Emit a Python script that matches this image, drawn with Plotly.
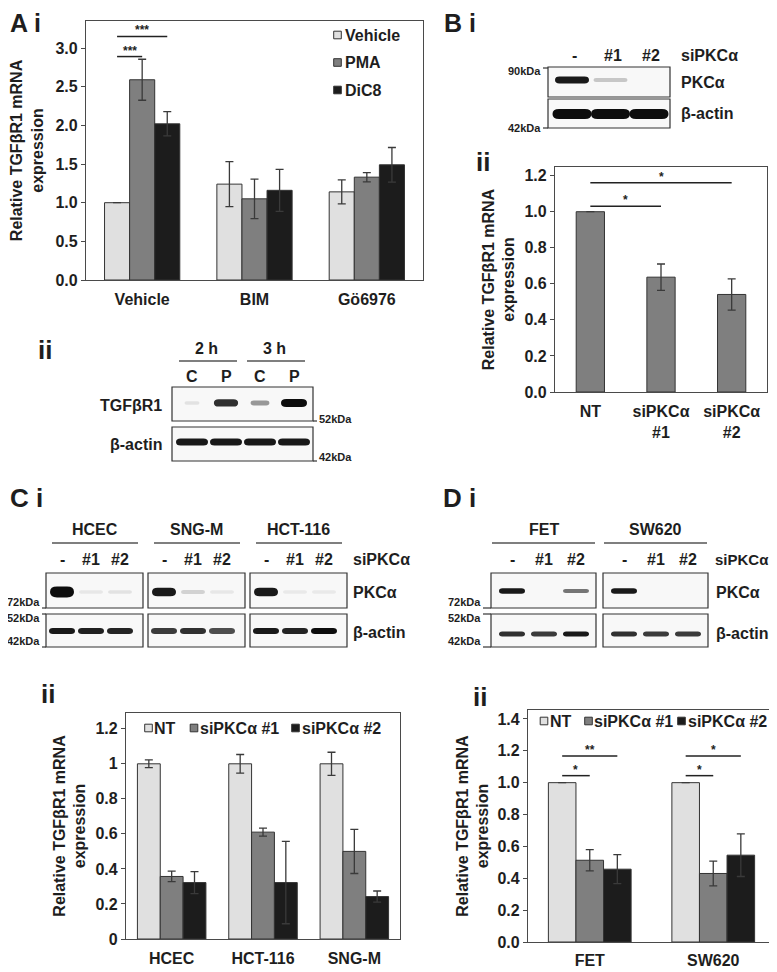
import plotly.graph_objects as go

# the page body keeps its default 8px margin, so the figure is drawn 8px in
PAD = 8
W, H = 777 - PAD, 972 - PAD
FONT = "Liberation Sans, Arial, Helvetica, sans-serif"
INK = "#1e1e1e"
AXIS = "#4a4a4a"
LIGHT, MID, DARK = "#e0e0e0", "#7f7f7f", "#1c1c1c"
TITLE = "Relative TGFβR1 mRNA<br>expression"

# ---------------- data ----------------
# A i  qPCR
a_groups = ["Vehicle", "BIM", "Gö6976"]
a_series = ["Vehicle", "PMA", "DiC8"]
a_vehicle = [1.00, 1.24, 1.14]
a_vehicle_err = [0.0, 0.29, 0.155]
a_pma = [2.59, 1.05, 1.33]
a_pma_err = [0.265, 0.255, 0.06]
a_dic8 = [2.02, 1.16, 1.49]
a_dic8_err = [0.157, 0.272, 0.224]
a_sig = [(0, 0, 1, 2.89, "***"), (0, 0, 2, 3.15, "***")]

# A ii  blot
aii_times = ["2 h", "3 h"]
aii_lanes = ["C", "P", "C", "P"]
aii_tgfbr1 = [0.08, 0.85, 0.4, 1.0]
aii_actin = [0.95, 0.95, 0.95, 0.95]

# B i  blot
bi_lanes = ["-", "#1", "#2"]
bi_pkca = [0.95, 0.2, 0.0]
bi_actin = [1.0, 1.0, 1.0]

# B ii  qPCR
b_cats = ["NT", "siPKCα<br>#1", "siPKCα<br>#2"]
b_vals = [1.0, 0.637, 0.541]
b_errs = [0.0, 0.073, 0.087]
b_sig = [(0, 1, 1.03, "*"), (0, 2, 1.16, "*")]

# C i  blot
ci_cells = ["HCEC", "SNG-M", "HCT-116"]
ci_lanes = ["-", "#1", "#2"]
ci_pkca = [[1.0, 0.06, 0.08], [0.95, 0.15, 0.06], [0.95, 0.05, 0.05]]
ci_actin = [[0.95, 0.92, 0.9], [0.8, 0.85, 0.72], [0.95, 0.9, 1.0]]

# C ii  qPCR
c_cells = ["HCEC", "HCT-116", "SNG-M"]
c_series = ["NT", "siPKCα #1", "siPKCα #2"]
c_nt = [1.0, 1.0, 1.0]
c_nt_err = [0.022, 0.053, 0.066]
c_si1 = [0.357, 0.61, 0.50]
c_si1_err = [0.03, 0.023, 0.126]
c_si2 = [0.322, 0.322, 0.242]
c_si2_err = [0.063, 0.235, 0.032]

# D i  blot
di_cells = ["FET", "SW620"]
di_pkca = [[0.95, 0.0, 0.55], [0.95, 0.0, 0.0]]
di_actin = [[0.85, 0.8, 0.95], [0.85, 0.8, 0.8]]

# D ii  qPCR
d_cells = ["FET", "SW620"]
d_nt = [1.0, 1.0]
d_nt_err = [0.0, 0.0]
d_si1 = [0.513, 0.43]
d_si1_err = [0.067, 0.078]
d_si2 = [0.457, 0.545]
d_si2_err = [0.091, 0.134]
d_sig = [(0, 0, 1, 1.044, "*"), (0, 0, 2, 1.167, "**"),
         (1, 0, 1, 1.044, "*"), (1, 0, 2, 1.167, "*")]


# ---------------- helpers ----------------
def px(x):
    return (x - PAD) / W


def py(y):
    return 1 - (y - PAD) / H


shapes, annots = [], []
fig = go.Figure()


def text(x, y, s, size=16, anchor="center"):
    annots.append(dict(x=px(x), y=py(y), xref="paper", yref="paper", text=s,
                       showarrow=False, xanchor=anchor, yanchor="middle",
                       borderpad=0,
                       font=dict(size=size, family=FONT, color=INK, weight="bold")))


def line(x0, y0, x1, y1, color="#555", width=1.4):
    shapes.append(dict(type="line", xref="paper", yref="paper",
                       x0=px(x0), y0=py(y0), x1=px(x1), y1=py(y1),
                       line=dict(color=color, width=width)))


def rect(x0, y0, x1, y1, fill, color="#333", width=1.2):
    shapes.append(dict(type="rect", xref="paper", yref="paper",
                       x0=px(x0), y0=py(y0), x1=px(x1), y1=py(y1),
                       fillcolor=fill, line=dict(color=color, width=width)))


def band(cx, cy, hw, hh, inten):
    if inten < 0.02:
        return
    g = int(round(245 - 232 * inten))
    r = min(hw, hh * 1.3)
    x0, x1, y0, y1 = cx - hw, cx + hw, cy - hh, cy + hh
    pts = lambda x, y: f"{px(x):.5f},{py(y):.5f}"
    path = (f"M{pts(x0 + r, y0)} L{pts(x1 - r, y0)} Q{pts(x1, y0)} {pts(x1, cy)} "
            f"Q{pts(x1, y1)} {pts(x1 - r, y1)} L{pts(x0 + r, y1)} "
            f"Q{pts(x0, y1)} {pts(x0, cy)} Q{pts(x0, y0)} {pts(x0 + r, y0)} Z")
    shapes.append(dict(type="path", xref="paper", yref="paper", path=path,
                       fillcolor=f"rgb({g},{g},{g})", line=dict(width=0)))


def kda(x, y, s, side, tick_y, edge):
    # marker label with short tick to blot edge
    if side == "left":
        text(x, y, s, size=11, anchor="right")
        line(x + 1, tick_y, edge, tick_y, color="#333", width=1.2)
    else:
        text(x, y, s, size=11, anchor="left")
        line(edge, tick_y, x - 1, tick_y, color="#333", width=1.2)


def grouped(sub, cats, names, vals, errs, colors, gap):
    n = len(names)
    w = (1 - gap) / n
    for k in range(n):
        fig.add_trace(go.Bar(
            x=cats, y=vals[k], name=names[k], xaxis="x" + sub, yaxis="y" + sub,
            width=w, offset=(k - n / 2) * w,
            marker=dict(color=colors[k], line=dict(color="#333", width=1)),
            error_y=dict(type="data", array=errs[k], visible=True,
                         color="#3a3a3a", thickness=1.3, width=4),
            showlegend=False, hoverinfo="x+y"))
    return w


def sig(sub, gi, j0, j1, level, label, n, w):
    x0 = gi + (j0 - (n - 1) / 2) * w
    x1 = gi + (j1 - (n - 1) / 2) * w
    shapes.append(dict(type="line", xref="x" + sub, yref="y" + sub,
                       x0=x0, x1=x1, y0=level, y1=level,
                       line=dict(color="#222", width=1.5)))
    annots.append(dict(x=(x0 + x1) / 2, y=level, xref="x" + sub, yref="y" + sub,
                       text=label, showarrow=False, yanchor="bottom", yshift=-3,
                       font=dict(size=12, family=FONT, color=INK, weight="bold")))


def square_legend(items, colors, xs_sq, xs_txt, ys, size=16):
    for name, col, xs, xt, y in zip(items, colors, xs_sq, xs_txt, ys):
        rect(xs - 3.8, y - 3.8, xs + 3.8, y + 3.8, col, color="#333", width=1)
        text(xt, y, name, size=size, anchor="left")


axis_layout = {}


def axes(sub, ncat, xdom, ydom, yrange, dtick, tickformat, standoff, labshift):
    base = dict(showline=True, mirror=True, linecolor=AXIS, linewidth=1.2,
                showgrid=False, zeroline=False, fixedrange=True, automargin=False)
    axis_layout["xaxis" + sub] = dict(
        base, domain=[px(xdom[0]), px(xdom[1])], anchor="y" + sub, ticks="",
        range=[-0.5, ncat - 0.5], tickfont=dict(size=16), ticklabelstandoff=labshift)
    axis_layout["yaxis" + sub] = dict(
        base, domain=[py(ydom[1]), py(ydom[0])], anchor="x" + sub, range=yrange,
        dtick=dtick, tick0=0, tickformat=tickformat, ticks="outside", ticklen=4,
        tickcolor=AXIS, tickfont=dict(size=16),
        title=dict(text=TITLE, font=dict(size=16), standoff=standoff))


# ---------------- A i ----------------
axes("", len(a_groups), (86, 423), (21, 280), [0, 3.35], 0.5, ".1f", 12, 5)
wa = grouped("", a_groups, a_series, [a_vehicle, a_pma, a_dic8],
             [a_vehicle_err, a_pma_err, a_dic8_err], [LIGHT, MID, DARK], 0.33)
for gi, j0, j1, lev, lab in a_sig:
    sig("", gi, j0, j1, lev, lab, 3, wa)
square_legend(a_series, [LIGHT, MID, DARK], [337.5] * 3, [344] * 3, [35, 62.5, 90])
text(9, 23, "A i", size=25, anchor="left")

# ---------------- A ii blot ----------------
text(37, 350, "ii", size=26, anchor="left")
lanes_a = [192 + 34 * k for k in range(len(aii_lanes))]
for t, name in enumerate(aii_times):
    c = (lanes_a[2 * t] + lanes_a[2 * t + 1]) / 2
    text(c - 3, 348, name)
    line(c - 30, 361, c + 28, 361, color="#555", width=1.4)
for x, lab in zip(lanes_a, aii_lanes):
    text(x, 376, lab)
rect(172, 387, 313, 421, "#f8f8f8")
rect(172, 427, 313, 461, "#f8f8f8")
for x, v in zip(lanes_a, aii_tgfbr1):
    band(x, 403, 7 + 6 * v, 1.5 + 2.5 * v, v)
for x, v in zip(lanes_a, aii_actin):
    band(x, 442, 16, 3.5, v)
text(163, 405, "TGFβR1", anchor="right")
text(163, 445, "β-actin", anchor="right")
kda(318, 419, "52kDa", "right", 421, 313)
kda(318, 457, "42kDa", "right", 461, 313)

# ---------------- B i blot ----------------
text(443, 23, "B i", size=25, anchor="left")
lanes_b = [572 + 38.5 * k for k in range(len(bi_lanes))]
for x, lab in zip(lanes_b, bi_lanes):
    text(x + 2, 55, lab)
text(680, 55, "siPKCα", anchor="left")
rect(548, 67, 670, 97, "#f8f8f8")
rect(548, 99, 670, 128, "#f8f8f8")
for x, v in zip(lanes_b, bi_pkca):
    band(x, 80, 17, 1.5 + 2 * v, v)
for x, v in zip(lanes_b, bi_actin):
    band(x, 114, 19.5, 5, v)
text(680, 83, "PKCα", anchor="left")
text(680, 113, "β-actin", anchor="left")
kda(542, 71, "90kDa", "left", 68, 548)
kda(542, 128, "42kDa", "left", 128, 548)

# ---------------- B ii ----------------
text(475, 162, "ii", size=26, anchor="left")
axes("2", len(b_cats), (555, 767), (167, 392), [0, 1.248], 0.2, ".1f", 5, 5)
wb = grouped("2", b_cats, ["siPKCα"], [b_vals], [b_errs], [MID], 0.6)
for j0, j1, lev, lab in b_sig:
    shapes.append(dict(type="line", xref="x2", yref="y2", x0=j0, x1=j1,
                       y0=lev, y1=lev, line=dict(color="#222", width=1.5)))
    annots.append(dict(x=(j0 + j1) / 2, y=lev, xref="x2", yref="y2", text=lab,
                       showarrow=False, yanchor="bottom", yshift=-3,
                       font=dict(size=12, family=FONT, color=INK, weight="bold")))

# ---------------- C i blot ----------------
text(9, 498, "C i", size=26, anchor="left")
c_boxes = [46, 148, 250]
for bx, cell, pk, ac in zip(c_boxes, ci_cells, ci_pkca, ci_actin):
    text(bx + 48.5, 529, cell)
    line(bx + 6, 543, bx + 92, 543, color="#555", width=1.4)
    lanes = [bx + 16 + 29 * k for k in range(len(ci_lanes))]
    for x, lab in zip(lanes, ci_lanes):
        text(x, 559, lab)
    rect(bx, 573, bx + 97, 608, "#f8f8f8")
    rect(bx, 614, bx + 97, 647, "#f8f8f8")
    for x, v in zip(lanes, pk):
        band(x, 592, 12, 1.5 + 3 * v * (1.3 if bx == 46 else 1.0), v)
    for x, v in zip(lanes, ac):
        band(x, 631, 13, 3, v)
text(352, 559, "siPKCα", anchor="left")
text(352, 592, "PKCα", anchor="left")
text(352, 632, "β-actin", anchor="left")
kda(41, 602, "72kDa", "left", 608, 46)
kda(41, 618, "52kDa", "left", 614, 46)
kda(41, 641, "42kDa", "left", 647, 46)

# ---------------- C ii ----------------
text(40, 694, "ii", size=26, anchor="left")
axes("3", len(c_cells), (126, 400), (713, 939), [0, 1.29], 0.2, "", 5, 5)
grouped("3", c_cells, c_series, [c_nt, c_si1, c_si2],
        [c_nt_err, c_si1_err, c_si2_err], [LIGHT, MID, DARK], 0.25)
square_legend(c_series, [LIGHT, MID, DARK], [148.5, 194, 295.5], [153, 199, 301], [728] * 3)

# ---------------- D i blot ----------------
text(442, 498, "D i", size=26, anchor="left")
d_boxes = [491, 603]
for bx, cell, pk, ac in zip(d_boxes, di_cells, di_pkca, di_actin):
    text(bx + 52.5, 529, cell)
    line(bx + 1, 543, bx + 104, 543, color="#555", width=1.4)
    lanes = [bx + 21 + 32 * k for k in range(len(ci_lanes))]
    for x, lab in zip(lanes, ci_lanes):
        text(x, 559, lab)
    rect(bx, 573, bx + 105, 608, "#f8f8f8")
    rect(bx, 614, bx + 105, 647, "#f8f8f8")
    for x, v in zip(lanes, pk):
        band(x, 591, 13, 1.2 + 1.6 * v, v)
    for x, v in zip(lanes, ac):
        band(x, 634, 13, 2.5, v)
text(714, 559, "siPKCα", size=15, anchor="left")
text(715, 592, "PKCα", anchor="left")
text(715, 633, "β-actin", anchor="left")
kda(482, 602, "72kDa", "left", 608, 491)
kda(482, 618, "52kDa", "left", 614, 491)
kda(482, 641, "42kDa", "left", 647, 491)

# ---------------- D ii ----------------
text(472, 697, "ii", size=26, anchor="left")
axes("4", len(d_cells), (528, 775), (710, 942), [0, 1.456], 0.2, ".1f", 4, 4)
wd = grouped("4", d_cells, c_series, [d_nt, d_si1, d_si2],
             [d_nt_err, d_si1_err, d_si2_err], [LIGHT, MID, DARK], 0.33)
for gi, j0, j1, lev, lab in d_sig:
    sig("4", gi, j0, j1, lev, lab, 3, wd)
square_legend(c_series, [LIGHT, MID, DARK], [544, 588.5, 681.5], [549, 593, 687], [721] * 3)

fig.update_layout(
    template="none",
    width=W, height=H, margin=dict(l=0, r=0, t=0, b=0, autoexpand=False),
    paper_bgcolor="white", plot_bgcolor="white", showlegend=False,
    barmode="group",
    font=dict(family=FONT, size=15, color=INK, weight="bold"),
    shapes=shapes, annotations=annots, **axis_layout)

fig.write_html("out.html")
